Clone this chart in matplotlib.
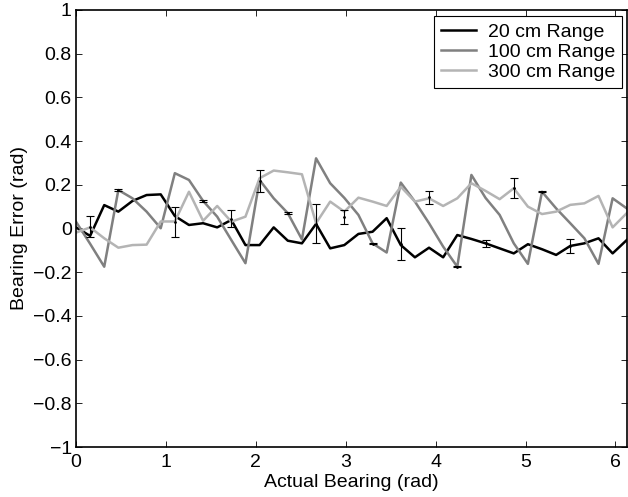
import numpy as np
import matplotlib
matplotlib.use("Agg")
import matplotlib.pyplot as plt

# -------------------------------
# 1. Data
# -------------------------------
n_points = 40
bearing = 2 * np.pi * np.arange(n_points) / n_points

err_20 = [0.005, -0.034, 0.107, 0.077, 0.126, 0.153, 0.156, 0.057, 0.016, 0.024,
          0.005, 0.039, -0.076, -0.076, 0.005, -0.056, -0.068, 0.021, -0.091, -0.076,
          -0.025, -0.015, 0.047, -0.076, -0.132, -0.088, -0.132, -0.030, -0.048, -0.068,
          -0.091, -0.114, -0.072, -0.095, -0.121, -0.080, -0.068, -0.045, -0.114, -0.053]

err_100 = [0.031, -0.070, -0.175, 0.176, 0.138, 0.077, 0.001, 0.253, 0.222, 0.126,
           0.054, -0.053, -0.159, 0.222, 0.138, 0.070, -0.050, 0.321, 0.207, 0.140,
           0.062, -0.068, -0.110, 0.210, 0.123, 0.024, -0.083, -0.175, 0.245, 0.140,
           0.062, -0.068, -0.162, 0.168, 0.092, 0.024, -0.045, -0.162, 0.138, 0.092]

err_300 = [-0.019, 0.005, -0.045, -0.088, -0.076, -0.074, 0.032, 0.032, 0.168, 0.035,
           0.103, 0.031, 0.054, 0.230, 0.265, 0.257, 0.248, 0.024, 0.123, 0.077,
           0.141, 0.123, 0.103, 0.191, 0.123, 0.138, 0.103, 0.138, 0.207, 0.172,
           0.134, 0.184, 0.100, 0.066, 0.077, 0.108, 0.115, 0.149, 0.005, 0.070]

# error bars: point index, centre, half width
bar_index = [1, 3, 7, 9, 11, 13, 15, 17, 19, 21, 23, 25, 27, 29, 31, 33, 35]
bar_mean = [0.009, 0.176, 0.031, 0.126, 0.045, 0.217, 0.070, 0.022, 0.053,
            -0.070, -0.072, 0.142, -0.175, -0.068, 0.185, 0.168, -0.079]
bar_half = [0.046, 0.003, 0.068, 0.003, 0.040, 0.051, 0.004, 0.090, 0.032,
            0.003, 0.073, 0.031, 0.003, 0.015, 0.047, 0.003, 0.031]

# -------------------------------
# 2. Plot
# -------------------------------
plt.rcParams['font.family'] = ['Liberation Sans', 'DejaVu Sans']
plt.rcParams['font.size'] = 14

fig = plt.figure(figsize=(6.28, 4.97), dpi=100)
ax = fig.add_axes([0.121, 0.1006, 0.877, 0.8794])

ax.plot(bearing, err_20, color='black', lw=1.8, label='20 cm Range')
ax.plot(bearing, err_100, color='#808080', lw=1.8, label='100 cm Range')
ax.plot(bearing, err_300, color='#b4b4b4', lw=1.8, label='300 cm Range')

ax.errorbar(bearing[bar_index], bar_mean, yerr=bar_half, fmt='.', color='black',
            ms=2, elinewidth=0.8, capsize=3, capthick=0.8, zorder=5)

ax.set_xlim(0, bearing[-1])
ax.set_ylim(-1, 1)
ax.set_xticks(range(7))
ax.set_yticks(np.round(np.arange(-1, 1.01, 0.2), 1))
ax.set_yticklabels(['\u22121', '\u22120.8', '\u22120.6', '\u22120.4', '\u22120.2', '0',
                    '0.2', '0.4', '0.6', '0.8', '1'])
ax.tick_params(direction='in', top=True, right=True, length=4, width=0.6)
ax.tick_params(axis='x', pad=5)
ax.tick_params(axis='y', pad=3)
for side in ax.spines.values():
    side.set_linewidth(1.2)

ax.set_xlabel('Actual Bearing (rad)', labelpad=2)
ax.set_ylabel('Bearing Error (rad)', labelpad=4)

leg = ax.legend(loc='upper right', bbox_to_anchor=(0.991, 0.985), borderaxespad=0,
                fancybox=False, edgecolor='black', framealpha=1,
                handlelength=1.8, labelspacing=0.12, borderpad=0.35,
                handletextpad=0.6)
leg.get_frame().set_linewidth(0.8)

fig.savefig('out.png', dpi=100)
